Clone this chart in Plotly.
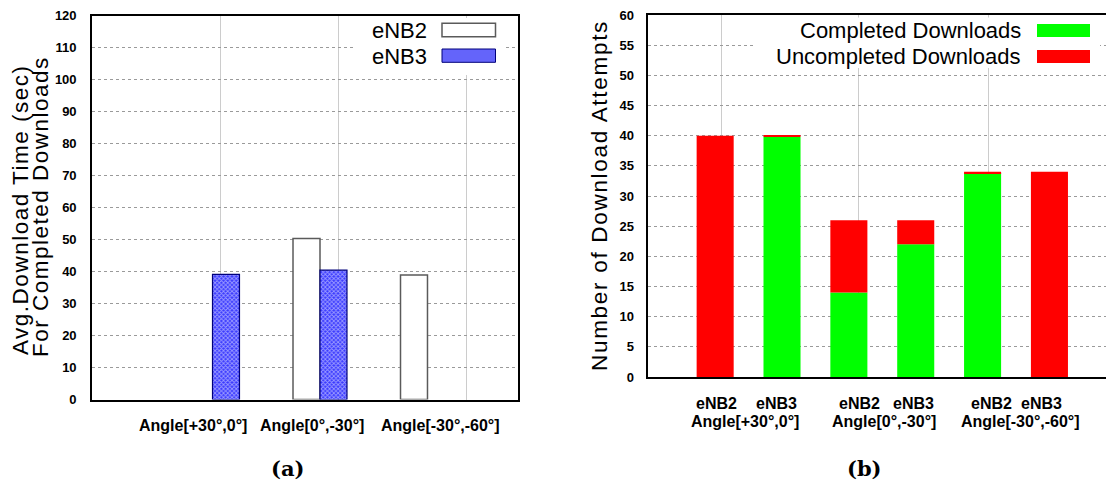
import plotly.graph_objects as go

W, H = 1106, 484

# ---------------- data: panel (a) ----------------
angle_labels = ["Angle[+30°,0°]", "Angle[0°,-30°]", "Angle[-30°,-60°]"]
group_pos_a = [1, 2, 3]
enb2_time = [None, 50.3, 38.9]
enb3_time = [39.1, 40.4, None]
label_pos_a = [0.815, 1.93, 3.123]
grid_pos_a = [1.076, 2.174, 3.367]
yticks_a = list(range(0, 121, 10))

# ---------------- data: panel (b) ----------------
bar_pos_b = [0, 1, 2, 3, 4, 5]
completed = [0, 39.8, 14, 22, 33.8, 0]
uncompleted = [40, 0.2, 12, 4, 0.2, 34]
station_labels = ["eNB2", "eNB3", "eNB2", "eNB3", "eNB2", "eNB3"]
station_label_pos = [0.02, 0.92, 2.16, 2.96, 4.13, 4.88]
angle_label_pos_b = [0.44, 2.53, 4.57]
grid_pos_b = [0.097, 2.148, 4.094]
yticks_b = list(range(0, 61, 5))


def px(x):
    return x / W


def py(y):
    return 1 - y / H


SANS = "Liberation Sans, Arial, Helvetica, sans-serif"
SERIF = "DejaVu Serif, Liberation Serif, serif"

fig = go.Figure()

# panel (a) bars
fig.add_trace(go.Bar(
    x=group_pos_a, y=enb2_time, width=0.251, offset=-0.251,
    marker=dict(color="white", line=dict(color="#5a5a5a", width=1.5)),
    xaxis="x", yaxis="y", showlegend=False, name="eNB2"))
fig.add_trace(go.Bar(
    x=group_pos_a, y=enb3_time, width=0.251, offset=0,
    marker=dict(color="#3a3aff",
                pattern=dict(shape="x", fgcolor="#ffffff", bgcolor="#3a3aff",
                             size=3, solidity=0.5),
                line=dict(color="#00007a", width=1.2)),
    xaxis="x", yaxis="y", showlegend=False, name="eNB3"))

# panel (b) stacked bars
fig.add_trace(go.Bar(
    x=bar_pos_b, y=completed, width=0.554,
    marker=dict(color="#00ff00", line=dict(width=0)),
    xaxis="x2", yaxis="y2", showlegend=False, name="Completed Downloads"))
fig.add_trace(go.Bar(
    x=bar_pos_b, y=uncompleted, base=completed, width=0.554,
    marker=dict(color="#ff0000", line=dict(width=0)),
    xaxis="x2", yaxis="y2", showlegend=False, name="Uncompleted Downloads"))

axis_common = dict(showline=True, linecolor="black", linewidth=1.6,
                   zeroline=False, ticks="", automargin=False)

fig.update_layout(
    width=W, height=H,
    margin=dict(l=0, r=0, t=0, b=0, pad=0, autoexpand=False),
    paper_bgcolor="white", plot_bgcolor="white",
    barmode="overlay",
    xaxis=dict(domain=[px(92), px(518)], range=[-0.121, 3.842],
               tickvals=grid_pos_a, showticklabels=False,
               showgrid=True, gridcolor="#cccccc", gridwidth=1.2,
               mirror=True, anchor="y", **axis_common),
    yaxis=dict(domain=[py(399.5), py(15.5)], range=[0, 120],
               tickvals=yticks_a, showgrid=True, gridcolor="#9a9a9a",
               griddash="dot", gridwidth=1, mirror=True, anchor="x",
               ticklabelstandoff=11,
               tickfont=dict(family=SANS, size=13, color="black", weight="bold"),
               **axis_common),
    xaxis2=dict(domain=[px(648.3), 1.0], range=[-1, 5.846],
                tickvals=grid_pos_b, showticklabels=False,
                showgrid=True, gridcolor="#cccccc", gridwidth=1.2,
                mirror=True, anchor="y2", **axis_common),
    yaxis2=dict(domain=[py(377), py(15)], range=[0, 60],
                tickvals=yticks_b, showgrid=True, gridcolor="#9a9a9a",
                griddash="dot", gridwidth=1, mirror=False, anchor="x2",
                ticklabelstandoff=10,
                tickfont=dict(family=SANS, size=13, color="black", weight="bold"),
                **axis_common),
)

shapes = []
annotations = []

# ---- legend (a) ----
shapes.append(dict(type="rect", xref="paper", yref="paper",
                   x0=px(355), x1=px(506), y0=py(75), y1=py(18),
                   fillcolor="white", line=dict(width=0), layer="above"))
shapes.append(dict(type="rect", xref="paper", yref="paper",
                   x0=px(442), x1=px(495.5), y0=py(36.7), y1=py(23.3),
                   fillcolor="white", line=dict(color="#5a5a5a", width=1.5),
                   layer="above"))
shapes.append(dict(type="rect", xref="paper", yref="paper",
                   x0=px(442), x1=px(495.5), y0=py(62.3), y1=py(49),
                   fillcolor="#6464fa", line=dict(color="#00007a", width=1),
                   layer="above"))
for txt, yc in [("eNB2", 30.5), ("eNB3", 56.5)]:
    annotations.append(dict(text=txt, xref="paper", yref="paper",
                            x=px(429), y=py(yc), xanchor="right", yanchor="middle",
                            showarrow=False,
                            font=dict(family=SANS, size=22, color="black")))

# ---- legend (b) ----
shapes.append(dict(type="rect", xref="paper", yref="paper",
                   x0=px(756), x1=px(1100), y0=py(68), y1=py(17.5),
                   fillcolor="white", line=dict(width=0), layer="above"))
shapes.append(dict(type="rect", xref="paper", yref="paper",
                   x0=px(1037), x1=px(1090), y0=py(37), y1=py(24),
                   fillcolor="#00ff00", line=dict(width=0), layer="above"))
shapes.append(dict(type="rect", xref="paper", yref="paper",
                   x0=px(1037), x1=px(1090), y0=py(63), y1=py(50),
                   fillcolor="#ff0000", line=dict(width=0), layer="above"))
for txt, yc in [("Completed Downloads", 30.5), ("Uncompleted Downloads", 56.5)]:
    annotations.append(dict(text=txt, xref="paper", yref="paper",
                            x=px(1023), y=py(yc), xanchor="right", yanchor="middle",
                            showarrow=False,
                            font=dict(family=SANS, size=22, color="black")))

# ---- x labels (a) ----
for lab, xp in zip(angle_labels, label_pos_a):
    annotations.append(dict(text=lab, xref="x", yref="paper", x=xp, y=py(425),
                            xanchor="center", yanchor="middle", showarrow=False,
                            font=dict(family=SANS, size=16, color="black", weight="bold")))

# ---- x labels (b) ----
for lab, xp in zip(station_labels, station_label_pos):
    annotations.append(dict(text=lab, xref="x2", yref="paper", x=xp, y=py(403),
                            xanchor="center", yanchor="middle", showarrow=False,
                            font=dict(family=SANS, size=16, color="black", weight="bold")))
for lab, xp in zip(angle_labels, angle_label_pos_b):
    annotations.append(dict(text=lab, xref="x2", yref="paper", x=xp, y=py(421),
                            xanchor="center", yanchor="middle", showarrow=False,
                            font=dict(family=SANS, size=16, color="black", weight="bold")))

# ---- axis titles (tall, thin lettering as in the reference) ----
for txt, xc, yc, ls in [("Avg.Download Time (sec)", 20, 210, 1.5),
                        ("For Completed Downloads", 41, 207, 1.5),
                        ("Number of Download Attempts", 599, 196, 1.7)]:
    annotations.append(dict(text=f'<span style="letter-spacing:{ls}px">{txt}</span>',
                            xref="paper", yref="paper",
                            x=px(xc), y=py(yc), xanchor="center", yanchor="middle",
                            textangle=-90, showarrow=False,
                            font=dict(family=SANS, size=22.5, color="black")))

# ---- captions ----
for txt, xc in [("(a)", 287), ("(b)", 864)]:
    annotations.append(dict(text=txt, xref="paper", yref="paper",
                            x=px(xc), y=py(468), xanchor="center", yanchor="middle",
                            showarrow=False,
                            font=dict(family=SERIF, size=21, color="black", weight="bold")))

fig.update_layout(shapes=shapes, annotations=annotations)
fig.write_html("out.html")
